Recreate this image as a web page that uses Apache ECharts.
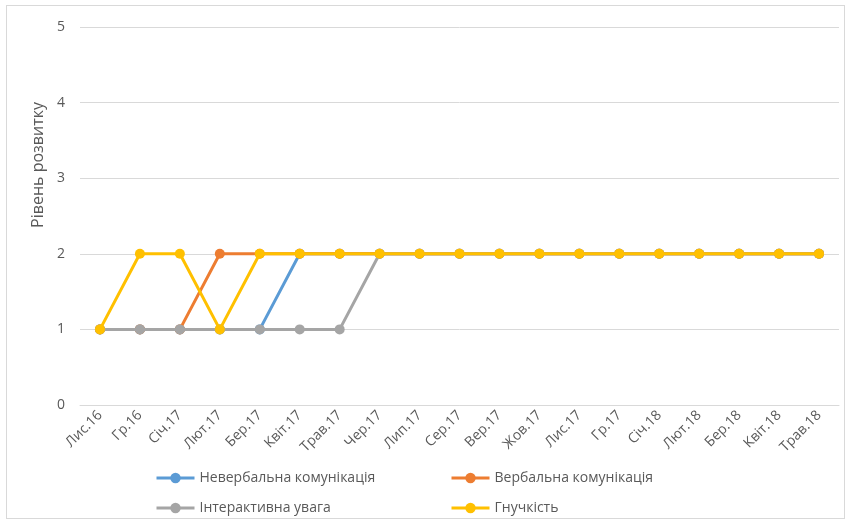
<!DOCTYPE html>
<html><head><meta charset="utf-8">
<script src="https://cdn.jsdelivr.net/npm/echarts@6/dist/echarts.min.js"></script>
<style>html,body{margin:0;padding:0;background:#fff}
#frame{position:absolute;left:6px;top:5px;width:839px;height:514px;border:1px solid #d9d9d9;box-sizing:border-box}
#c{position:absolute;left:0;top:0;width:852px;height:524px}</style>
</head><body><div id="frame"></div><div id="c"></div>
<script>
const categories = ['Лис.16','Гр.16','Січ.17','Лют.17','Бер.17','Квіт.17','Трав.17','Чер.17','Лип.17','Сер.17','Вер.17','Жов.17','Лис.17','Гр.17','Січ.18','Лют.18','Бер.18','Квіт.18','Трав.18'];
const nonverbal   = [1,1,1,1,1,2,2,2,2,2,2,2,2,2,2,2,2,2,2];
const verbal      = [1,1,1,2,2,2,2,2,2,2,2,2,2,2,2,2,2,2,2];
const interactive = [1,1,1,1,1,1,1,2,2,2,2,2,2,2,2,2,2,2,2];
const flexibility = [1,2,2,1,2,2,2,2,2,2,2,2,2,2,2,2,2,2,2];
const seriesNames = ['Невербальна комунікація','Вербальна комунікація','Інтерактивна увага','Гнучкість'];
const colors = ['#5B9BD5','#ED7D31','#A5A5A5','#FFC000'];
const yTitle = 'Рівень розвитку';

const font = 'Open Sans';
const chart = echarts.init(document.getElementById('c'));
const mk = (i, data) => ({
  name: seriesNames[i], type: 'line', data: data, symbol: 'circle', symbolSize: 10,
  lineStyle: {width: 3, color: colors[i]}, itemStyle: {color: colors[i]}, z: 2 + i
});
const legendCommon = {orient: 'vertical', itemWidth: 38, itemHeight: 13, itemGap: 16, padding: 0,
  lineStyle: {width: 3}, itemStyle: {},
  textStyle: {color: '#595959', fontSize: 14, fontFamily: font}};
chart.setOption({
  animation: false,
  color: colors,
  grid: {left: 80, right: 13, top: 27, bottom: 119},
  xAxis: {type: 'category', data: categories, boundaryGap: true,
    axisLine: {lineStyle: {color: '#d9d9d9'}}, axisTick: {show: false},
    axisLabel: {rotate: 45, color: '#595959', fontSize: 14, fontFamily: font, margin: 8, interval: 0}},
  yAxis: {type: 'value', min: 0, max: 5, interval: 1,
    axisLine: {show: false}, axisTick: {show: false},
    splitLine: {lineStyle: {color: '#d9d9d9'}},
    axisLabel: {color: '#595959', fontSize: 14, fontFamily: font, margin: 15}},
  legend: [
    Object.assign({left: 155, top: 471, data: [{name: seriesNames[0]}, {name: seriesNames[2]}]}, legendCommon),
    Object.assign({left: 450, top: 471, data: [{name: seriesNames[1]}, {name: seriesNames[3]}]}, legendCommon)
  ],
  graphic: [{type: 'text', left: 30, top: 102, rotation: Math.PI/2,
    style: {text: yTitle, fill: '#595959', font: '16px "' + font + '"'}}],
  series: [mk(0, nonverbal), mk(1, verbal), mk(2, interactive), mk(3, flexibility)]
});
</script></body></html>
